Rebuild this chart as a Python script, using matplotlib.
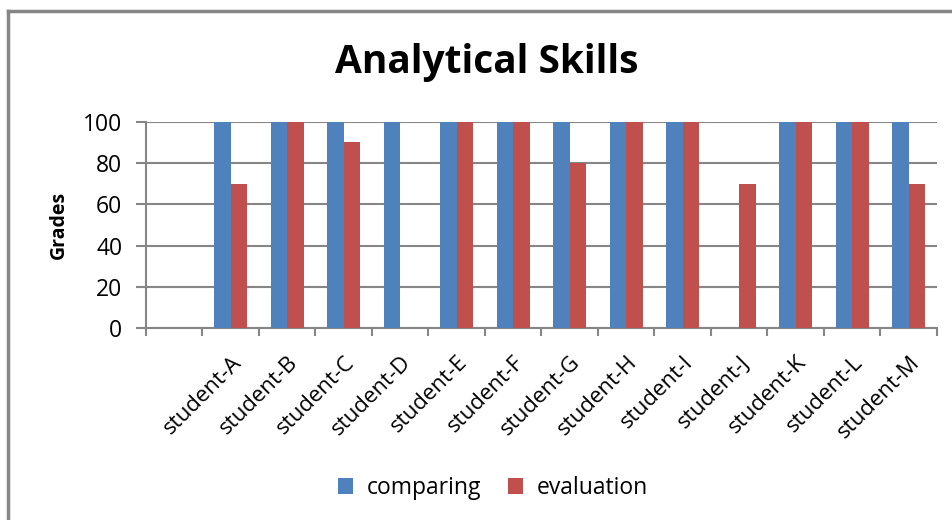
import matplotlib
matplotlib.use("Agg")
import matplotlib.pyplot as plt
import numpy as np
from matplotlib.lines import Line2D
from matplotlib.patches import Patch

categories = ['', 'student-A', 'student-B', 'student-C', 'student-D', 'student-E',
              'student-F', 'student-G', 'student-H', 'student-I', 'student-J',
              'student-K', 'student-L', 'student-M']
comparing = [0, 100, 100, 100, 100, 100, 100, 100, 100, 100, 0, 100, 100, 100]
evaluation = [0, 70, 100, 90, 0, 100, 100, 80, 100, 100, 70, 100, 100, 70]
yticks = [0, 20, 40, 60, 80, 100]

plt.rcParams['font.family'] = ['Open Sans', 'DejaVu Sans']

fig = plt.figure(figsize=(9.53, 5.2), dpi=100)
ax = fig.add_axes([146/953, 1-328.3/520, (937-146)/953, (328.3-121.7)/520])

blue = '#4F81BD'
red = '#C0504D'
grid = '#868686'

x = np.arange(len(categories))
w = 0.29
ax.bar(x - w/2, comparing, width=w, color=blue, label='comparing', zorder=3)
ax.bar(x + w/2, evaluation, width=w, color=red, label='evaluation', zorder=3)

ax.set_xlim(-0.5, len(categories) - 0.5)
ax.set_ylim(0, 100)
ax.set_yticks(yticks)
ax.set_yticklabels([str(v) for v in yticks], fontsize=16.5)
ax.yaxis.grid(True, color=grid, linewidth=1.5, zorder=0)
ax.set_axisbelow(True)

ax.set_xticks(x)
ax.set_xticklabels(categories, rotation=45, ha='right', rotation_mode='anchor', fontsize=16)
ax.tick_params(axis='x', length=0, pad=17)
ax.set_xticks(np.arange(-0.5, len(categories)), minor=True)
ax.tick_params(axis='x', which='minor', length=6, width=1.5, color=grid, direction='out')
ax.tick_params(axis='y', length=7, width=1.5, color=grid, pad=10)

for s in ['top', 'right']:
    ax.spines[s].set_visible(False)
for s in ['left', 'bottom']:
    ax.spines[s].set_color(grid)
    ax.spines[s].set_linewidth(1.5)

ax.set_ylabel('Grades', fontsize=14, fontweight='bold', labelpad=10)

fig.text(487/953, 1-62/520, 'Analytical Skills', ha='center', va='center',
         fontsize=28, fontweight='bold')

handles = [Patch(facecolor=blue, label='comparing'), Patch(facecolor=red, label='evaluation')]
fig.legend(handles=handles, loc='center', bbox_to_anchor=(493/953, 1-488/520), ncol=2,
           frameon=False, fontsize=16.5, handlelength=0.65, handleheight=0.7,
           handletextpad=0.6, columnspacing=1.2)

# outer frame (top and left visible)
fig.add_artist(Line2D([8/953, 1.0], [1-10.5/520, 1-10.5/520], color=grid, linewidth=2.5,
                      transform=fig.transFigure))
fig.add_artist(Line2D([8/953, 8/953], [0, 1-10.5/520], color=grid, linewidth=2.5,
                      transform=fig.transFigure))

fig.savefig('out.png', dpi=100)
